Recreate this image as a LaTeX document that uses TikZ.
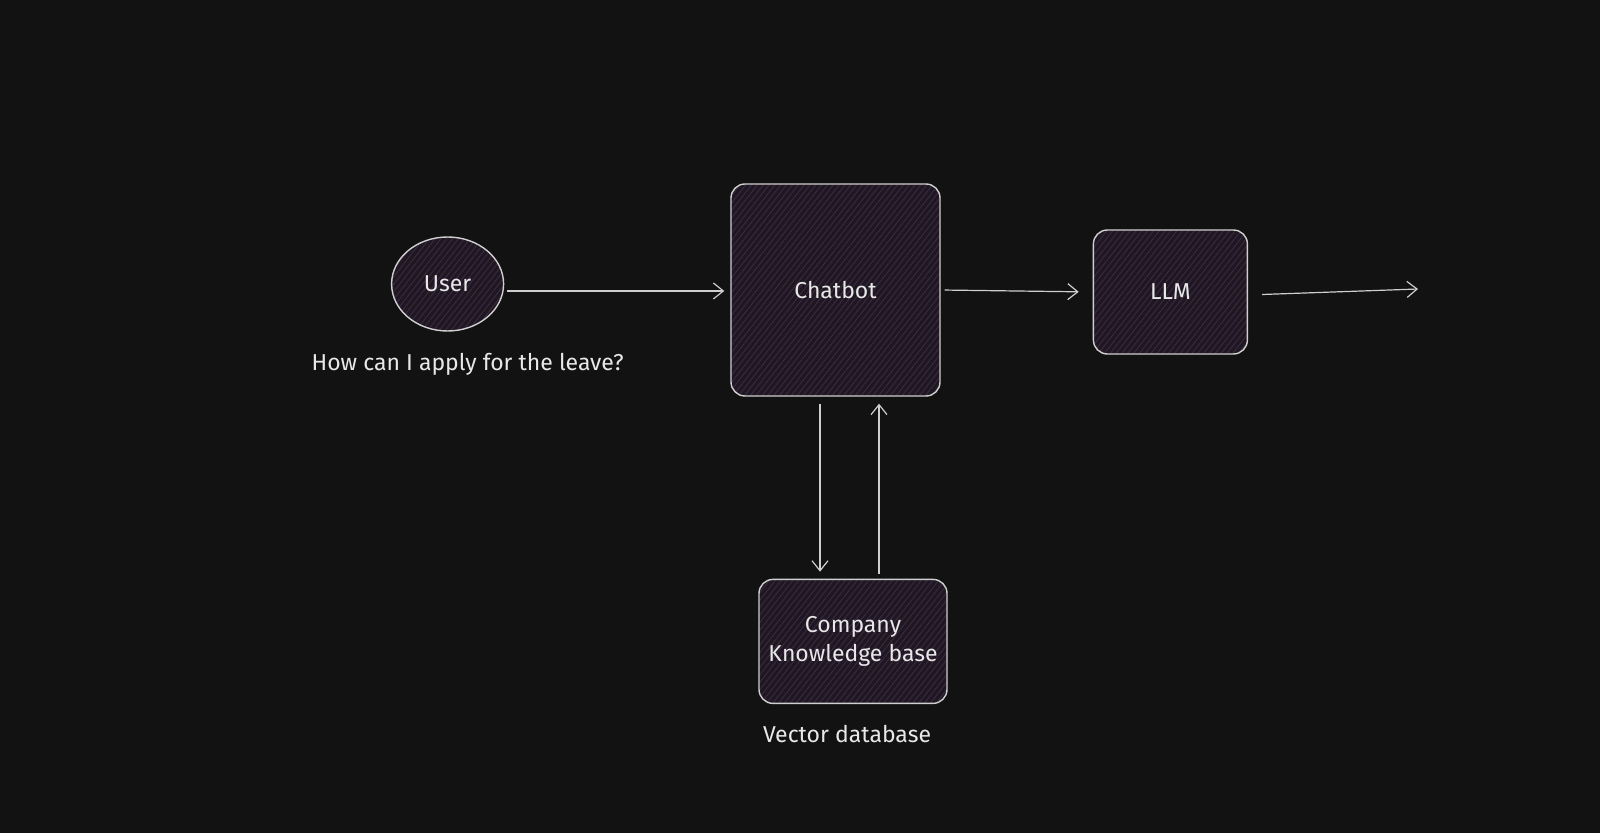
\documentclass[tikz,border=0pt]{standalone}
\usepackage{fontspec}
\setmainfont{Fira Sans}
\usetikzlibrary{positioning, shapes.geometric, arrows.meta, patterns.meta}
\definecolor{bgdark}{HTML}{121212}
\definecolor{boxfill}{HTML}{1F1722}
\definecolor{hatch}{HTML}{3A2B42}
\definecolor{stroke}{HTML}{CFCFCF}
\definecolor{ink}{HTML}{E8E8E8}
\tikzstyle{sketchbox} = [rectangle, rounded corners=7pt, draw=stroke, line width=0.7pt, preaction={fill=boxfill}, preaction={pattern={Lines[angle=52,distance=2.3pt,line width=0.45pt]}, pattern color=hatch}, text=ink, align=center, font=\fontsize{11.5}{14.5}\selectfont]
\tikzstyle{sketchround} = [ellipse, inner sep=0pt, draw=stroke, line width=0.7pt, preaction={fill=boxfill}, preaction={pattern={Lines[angle=52,distance=2.3pt,line width=0.45pt]}, pattern color=hatch}, text=ink, font=\fontsize{11.5}{14.5}\selectfont]
\tikzstyle{note} = [text=ink, font=\fontsize{11.5}{14.5}\selectfont]
\tikzstyle{arrow} = [draw=stroke, line width=0.6pt, -{Straight Barb[length=5pt,width=8pt]}]

\begin{document}
\begin{tikzpicture}[x=0.5pt, y=-0.5pt]

\fill[bgdark] (0,0) rectangle (1600,833);
\useasboundingbox (0,0) rectangle (1600,833);

\node (chatbot) [sketchbox, minimum width=104.5pt, minimum height=106pt] at (835.5,290) {Chatbot};

\node (user) [sketchround, minimum width=56pt, minimum height=47pt, left=113pt of chatbot, yshift=3pt] {User};
\node (question) [note, below=7pt of user, xshift=10pt] {How can I apply for the leave?};

\node (llm) [sketchbox, minimum width=77pt, minimum height=62pt, right=76pt of chatbot, yshift=-1pt] {LLM};
\coordinate (out) at (1418,289);

\node (kb) [sketchbox, minimum width=94pt, minimum height=62pt, below=91pt of chatbot, xshift=8.75pt] {Company\\Knowledge base};
\node (vectordb) [note, below=7pt of kb, xshift=-3pt] {Vector database};

\draw [arrow, shorten <=1.5pt, shorten >=3pt] ([yshift=-0.5pt]user.east |- chatbot.west) -- ([yshift=-0.5pt]chatbot.west);
\draw [arrow, shorten <=2pt, shorten >=7pt] (chatbot.east) -- (llm.west);
\draw [arrow, shorten <=7pt] ([yshift=-1.5pt]llm.east) -- (out);

\draw [arrow, shorten <=3.5pt, shorten >=3.5pt] ([xshift=-7.75pt]chatbot.south) -- ([xshift=-7.75pt]chatbot.south |- kb.north);
\draw [arrow, shorten <=2.5pt, shorten >=3.5pt] ([xshift=13pt]kb.north) -- ([xshift=13pt]kb.north |- chatbot.south);

\end{tikzpicture}
\end{document}
